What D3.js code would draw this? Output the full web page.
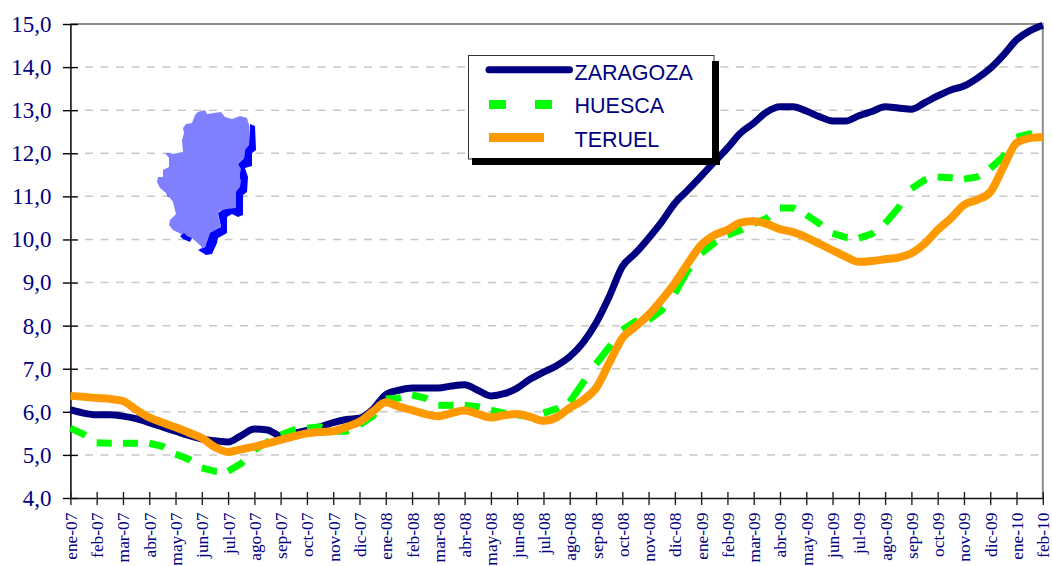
<!DOCTYPE html>
<html><head><meta charset="utf-8">
<script src="https://cdn.jsdelivr.net/npm/d3@7"></script>
<style>html,body{margin:0;padding:0;background:#fff;overflow:hidden}svg{display:block}</style>
</head><body><svg id="c" width="1052" height="566"></svg>
<script>
const months = ["ene-07","feb-07","mar-07","abr-07","may-07","jun-07","jul-07","ago-07","sep-07","oct-07","nov-07","dic-07",
"ene-08","feb-08","mar-08","abr-08","may-08","jun-08","jul-08","ago-08","sep-08","oct-08","nov-08","dic-08",
"ene-09","feb-09","mar-09","abr-09","may-09","jun-09","jul-09","ago-09","sep-09","oct-09","nov-09","dic-09",
"ene-10","feb-10"];
const yTicks = [4,5,6,7,8,9,10,11,12,13,14,15];
// two readings per month, the last one is feb-10
const zaragoza = [
6.05,5.97, 5.93,5.93, 5.90,5.84, 5.75,5.65, 5.55,5.45, 5.37,5.33, 5.30,5.45, 5.60,5.58, 5.44,5.50, 5.57,5.65, 5.75,5.82, 5.85,6.05,
6.40,6.50, 6.55,6.55, 6.55,6.60, 6.63,6.50, 6.37,6.42, 6.55,6.76, 6.92,7.07, 7.28,7.60, 8.06,8.67, 9.37,9.68, 10.03,10.41, 10.84,11.15,
11.47,11.80, 12.12,12.47, 12.70,12.96, 13.08,13.08, 12.98,12.85, 12.75,12.75, 12.87,12.97, 13.08,13.05, 13.02,13.17, 13.33,13.47, 13.56,13.74, 13.97,14.28,
14.63,14.84, 14.97];
const huesca = [
5.62,5.48, 5.28,5.27, 5.27,5.27, 5.27,5.20, 5.02,4.90, 4.70,4.62, 4.62,4.80, 5.12,5.30, 5.46,5.58, 5.62,5.65, 5.55,5.55, 5.70,5.90,
6.30,6.32, 6.39,6.32, 6.15,6.15, 6.15,6.12, 6.04,5.97, 5.93,5.88, 5.97,6.07, 6.23,6.67, 7.11,7.50, 7.90,8.10, 8.13,8.36, 8.75,9.29,
9.68,9.92, 10.10,10.22, 10.37,10.49, 10.73,10.73, 10.57,10.37, 10.14,10.05, 10.03,10.13, 10.37,10.73, 11.18,11.38, 11.45,11.43, 11.40,11.45, 11.65,11.92,
12.37,12.45, 12.37];
const teruel = [
6.37,6.35, 6.32,6.30, 6.25,6.05, 5.87,5.75, 5.64,5.52, 5.39,5.18, 5.07,5.13, 5.19,5.27, 5.35,5.43, 5.50,5.53, 5.55,5.65, 5.77,6.00,
6.22,6.12, 6.04,5.95, 5.90,5.97, 6.03,5.95, 5.87,5.92, 5.95,5.88, 5.79,5.87, 6.09,6.27, 6.55,7.13, 7.71,7.98, 8.25,8.60, 8.99,9.45,
9.87,10.10, 10.22,10.39, 10.42,10.36, 10.24,10.17, 10.05,9.90, 9.75,9.60, 9.48,9.50, 9.54,9.58, 9.68,9.90, 10.22,10.49, 10.80,10.92, 11.10,11.68,
12.24,12.35, 12.38];
const legendNames = ["ZARAGOZA","HUESCA","TERUEL"];
// Aragón map drawing, outline points in page pixels
const mapDark = [[250,124],[255,126],[256,150],[252,153],[252,166],[245,168],[248,177],[247,192],[243,195],[243,215],[238,217],[232,214],[227,217],[227,233],[218,238],[217,243],[212,254],[206,255],[198,250],[205,247],[210,232],[221,227],[218,213],[225,208],[236,207],[236,190],[240,185],[239,169],[238,164],[244,158],[245,148],[249,145]];
const mapLight = [[198,112],[205,110],[207,114],[221,112],[225,117],[232,119],[240,116],[247,118],[249,125],[249,145],[245,150],[244,158],[238,164],[241,169],[239,178],[241,180],[240,187],[236,192],[236,208],[227,209],[219,211],[218,215],[221,227],[210,233],[205,247],[198,250],[202,247],[192,238],[183,235],[173,230],[169,225],[170,220],[176,214],[173,202],[166,193],[160,188],[157,182],[158,177],[163,177],[163,170],[169,167],[169,158],[165,153],[170,153],[173,154],[183,152],[182,140],[184,133],[183,128],[186,124],[192,123],[195,115]];
const mapSpot1 = [[180,236],[184,233],[187,236],[192,238],[190,242],[183,239]];
const mapSpot2 = [[166,192],[170,196],[168,197]];

const svg = d3.select("#c");
const navy = "#000080";
const xRange = [70.4, 1042.8];
const x = d3.scalePoint().domain(months).range(xRange);
const xHalf = d3.scaleLinear().domain([0, zaragoza.length - 1]).range(xRange);
const y = d3.scaleLinear().domain([4, 15]).range([498, 24]);

// grid
svg.append("g").selectAll("line").data(yTicks.filter(t => t > 4 && t < 15)).join("line")
  .attr("x1", 85).attr("x2", 1042).attr("y1", d => y(d)).attr("y2", d => y(d))
  .attr("stroke", "#c8c8c8").attr("stroke-width", 1.5).attr("stroke-dasharray", "8 7.5");

// plot frame top/right
svg.append("path").attr("d", `M${xRange[0]},${y(15)}H${xRange[1]}V${y(4)}`)
  .attr("fill", "none").attr("stroke", "#8c8c8c").attr("stroke-width", 2);

// map
const poly = d3.line().curve(d3.curveLinearClosed);
svg.append("path").attr("d", poly(mapDark)).attr("fill", "#0000ff");
svg.append("path").attr("d", poly(mapSpot2)).attr("fill", "#0000ff");
svg.append("path").attr("d", poly(mapLight)).attr("fill", "#8080ff");
svg.append("path").attr("d", poly(mapSpot1)).attr("fill", "#0000ff");

// axes
const yAxis = svg.append("g").attr("transform", `translate(${xRange[0]},0)`)
  .call(d3.axisLeft(y).tickValues(yTicks).tickSize(0).tickPadding(19).tickFormat(d => d3.format(".1f")(d).replace(".", ",")));
yAxis.select(".domain").attr("stroke", "#111").attr("stroke-width", 1.6);
yAxis.selectAll(".tick line").attr("x1", -7.5).attr("x2", 7.5).attr("stroke", "#000").attr("stroke-width", 1.4);
yAxis.selectAll("text").attr("font-family", "'Liberation Serif'").attr("font-size", 23).attr("fill", navy).attr("dy", "0.32em");

const xAxis = svg.append("g").attr("transform", `translate(0,${y(4)})`)
  .call(d3.axisBottom(x).tickSize(0));
xAxis.select(".domain").attr("stroke", "#111").attr("stroke-width", 1.6);
xAxis.selectAll(".tick line").attr("y1", -6).attr("y2", 7).attr("stroke", "#222").attr("stroke-width", 1.4);
xAxis.selectAll("text")
  .attr("font-family", "'Liberation Serif'").attr("font-size", 17.4).attr("fill", navy)
  .attr("text-anchor", "end").attr("dy", 0).attr("y", 0)
  .attr("transform", "translate(6,14.5) rotate(-90)");

// series
const line = d3.line().x((d, i) => xHalf(i)).y(d => y(d)).curve(d3.curveMonotoneX);
svg.append("path").datum(zaragoza).attr("d", line).attr("fill", "none").attr("stroke", navy).attr("stroke-width", 7).attr("stroke-linejoin", "round");

// Huesca: one dash per month, starting at each month's tick
const dashLine = d3.line().x(d => xHalf(d[0])).y(d => y(d[1]));
const dashes = d3.range(0, huesca.length - 1, 2).map(k => {
  const next = huesca[k + 2];
  return [[k, huesca[k]], [k + 1, huesca[k + 1]], [k + 1.15, d3.interpolateNumber(huesca[k + 1], next)(0.15)]];
});
svg.append("g").selectAll("path").data(dashes).join("path")
  .attr("d", dashLine).attr("fill", "none").attr("stroke", "#00ff00").attr("stroke-width", 7);

svg.append("path").datum(teruel).attr("d", line).attr("fill", "none").attr("stroke", "#ff9900").attr("stroke-width", 8).attr("stroke-linejoin", "round");

// legend
const lg = svg.append("g");
lg.append("rect").attr("x", 468.5).attr("y", 55.5).attr("width", 245.5).attr("height", 103.5).attr("fill", "#fff").attr("stroke", "#333").attr("stroke-width", 1);
lg.append("rect").attr("x", 472).attr("y", 158).attr("width", 248).attr("height", 7).attr("fill", "#000");
lg.append("rect").attr("x", 712).attr("y", 61).attr("width", 7).attr("height", 104).attr("fill", "#000");
lg.append("line").attr("x1", 489).attr("x2", 569.5).attr("y1", 69.7).attr("y2", 69.7).attr("stroke", navy).attr("stroke-width", 7).attr("stroke-linecap", "round");
lg.append("line").attr("x1", 489).attr("x2", 552).attr("y1", 104.5).attr("y2", 104.5).attr("stroke", "#00ff00").attr("stroke-width", 9).attr("stroke-dasharray", "17 29");
lg.append("line").attr("x1", 489).attr("x2", 544).attr("y1", 137.5).attr("y2", 137.5).attr("stroke", "#ff9900").attr("stroke-width", 9);
lg.selectAll("text").data(legendNames).join("text")
  .attr("x", 574.5).attr("y", (d, i) => [80, 113, 146.5][i])
  .attr("font-family", "'Liberation Sans'").attr("font-size", 21.5).attr("fill", navy).text(d => d);
</script></body></html>
